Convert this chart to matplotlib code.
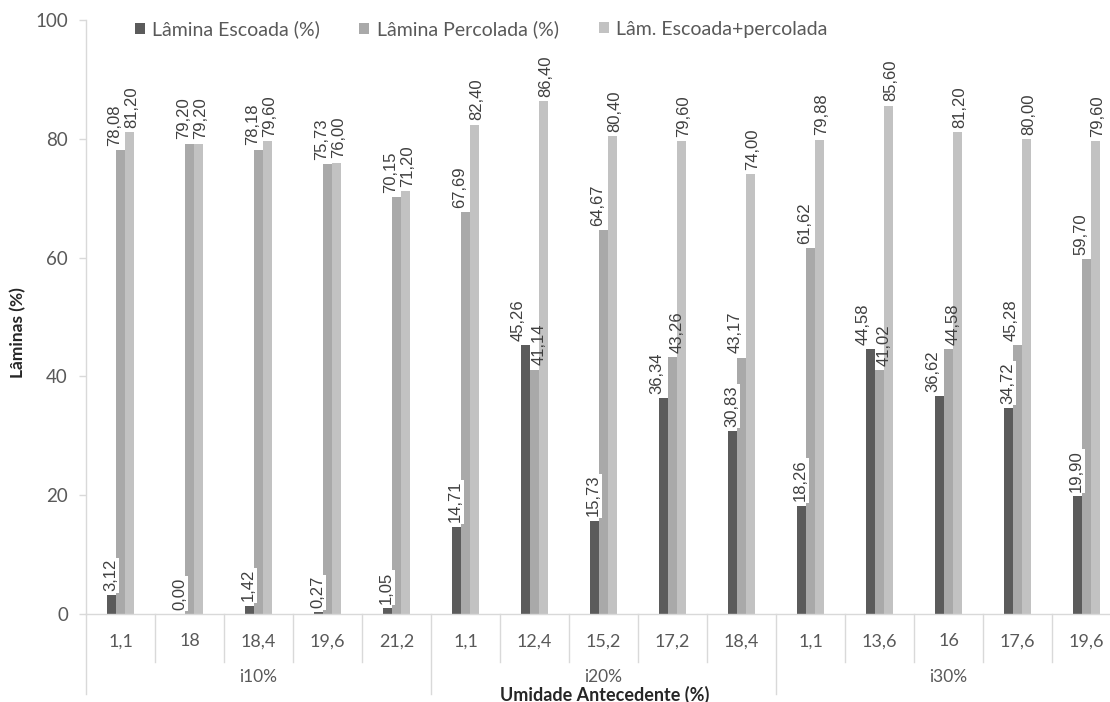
import matplotlib
matplotlib.use("Agg")
import matplotlib.pyplot as plt
from matplotlib.patches import Patch
from matplotlib.transforms import blended_transform_factory
import numpy as np

# Antecedent moisture (%) for each test, grouped by rainfall intensity
categories = ['1,1', '18', '18,4', '19,6', '21,2',
              '1,1', '12,4', '15,2', '17,2', '18,4',
              '1,1', '13,6', '16', '17,6', '19,6']
groups = ['i10%', 'i20%', 'i30%']
group_size = 5

escoada = [3.12, 0.00, 1.42, 0.27, 1.05,
           14.71, 45.26, 15.73, 36.34, 30.83,
           18.26, 44.58, 36.62, 34.72, 19.90]
percolada = [78.08, 79.20, 78.18, 75.73, 70.15,
             67.69, 41.14, 64.67, 43.26, 43.17,
             61.62, 41.02, 44.58, 45.28, 59.70]
total = [81.20, 79.20, 79.60, 76.00, 71.20,
         82.40, 86.40, 80.40, 79.60, 74.00,
         79.88, 85.60, 81.20, 80.00, 79.60]

series_names = ['Lâmina Escoada (%)', 'Lâmina Percolada (%)', 'Lâm. Escoada+percolada']
series_colors = ['#5b5b5b', '#a9a9a9', '#c2c2c2']
# horizontal nudge of each series' value labels, in points
label_dx = [-0.7, -4.3, 1.4]

yticks = [0, 20, 40, 60, 80, 100]

W, H = 1110, 702
fig = plt.figure(figsize=(W / 100, H / 100), dpi=100)
ax = fig.add_axes([86 / W, 88 / H, 15 * 69 / W, 594 / H])

grey_txt = '#595959'
axis_col = '#d9d9d9'
ui_font = 'Lato'
label_font = 'Liberation Sans'

x = np.arange(len(categories))
bw = 0.13
all_series = [escoada, percolada, total]
for i, (vals, col, name) in enumerate(zip(all_series, series_colors, series_names)):
    pos = x + (i - 1) * bw
    ax.bar(pos, vals, width=bw, color=col, label=name, zorder=2)
    for k, (px, v) in enumerate(zip(pos, vals)):
        dx = label_dx[i]
        box = dict(boxstyle='square,pad=0.08', fc='white', ec='none')
        # when runoff and percolation are close in height, spread their labels apart
        if escoada[k] > percolada[k] - 8:
            if i == 0:
                dx = -5.0
            elif i == 1:
                dx = 3.6
                box = None
        ax.annotate(f"{v:.2f}".replace('.', ','), (px, v),
                    xytext=(dx, 3), textcoords='offset points',
                    rotation=90, ha='center', va='bottom',
                    fontsize=12, family=label_font, color='#3f3f3f',
                    bbox=box, zorder=3 + i)

ax.set_xlim(-0.5, len(categories) - 0.5)
ax.set_ylim(0, 100)
ax.set_yticks(yticks)
ax.set_yticklabels([str(t) for t in yticks], family=ui_font, fontsize=13.5, color=grey_txt)
ax.tick_params(axis='y', length=5, width=1, color=axis_col, pad=8)
ax.set_xticks(x)
ax.set_xticklabels(categories, family=ui_font, fontsize=13, color=grey_txt)
ax.tick_params(axis='x', length=0, pad=14)

for s in ['top', 'right']:
    ax.spines[s].set_visible(False)
for s in ['left', 'bottom']:
    ax.spines[s].set_color(axis_col)
    ax.spines[s].set_linewidth(1)

# category separators below the axis (short for inner level, long for groups)
tr = blended_transform_factory(ax.transData, fig.transFigure)
y_axis = 88 / H
for k in range(len(categories) + 1):
    xs = k - 0.5
    if k % group_size == 0:
        y_end = 8 / H
    else:
        y_end = 40 / H
    ax.plot([xs, xs], [y_axis, y_end], color=axis_col, lw=1,
            transform=tr, clip_on=False, zorder=1)

for g, name in enumerate(groups):
    cx = g * group_size + (group_size - 1) / 2
    ax.text(cx, 1 - 677 / H, name, transform=tr, ha='center', va='center',
            family=ui_font, fontsize=12.5, color=grey_txt)

fig.text(605 / W, 1 - 694.5 / H, 'Umidade Antecedente (%)',
         ha='center', va='center', family=ui_font, fontsize=13,
         fontweight='bold', color='#262626')
fig.text(18 / W, 1 - 333 / H, 'Lâminas (%)', rotation=90, ha='center', va='center',
         family=ui_font, fontsize=12.5, fontweight='bold', color='#262626')

# legend entries placed individually across the top
leg_x = [135, 359, 599]
for name, col, lx in zip(series_names, series_colors, leg_x):
    leg = fig.legend(handles=[Patch(facecolor=col, edgecolor='none')], labels=[name],
                     loc='center left', bbox_to_anchor=(lx / W, 1 - 29 / H),
                     frameon=False, borderpad=0, borderaxespad=0,
                     handlelength=0.5, handleheight=0.5, handletextpad=0.4,
                     prop=dict(family=ui_font, size=14))
    for t in leg.get_texts():
        t.set_color(grey_txt)

fig.savefig('out.png', dpi=100, facecolor='white')
